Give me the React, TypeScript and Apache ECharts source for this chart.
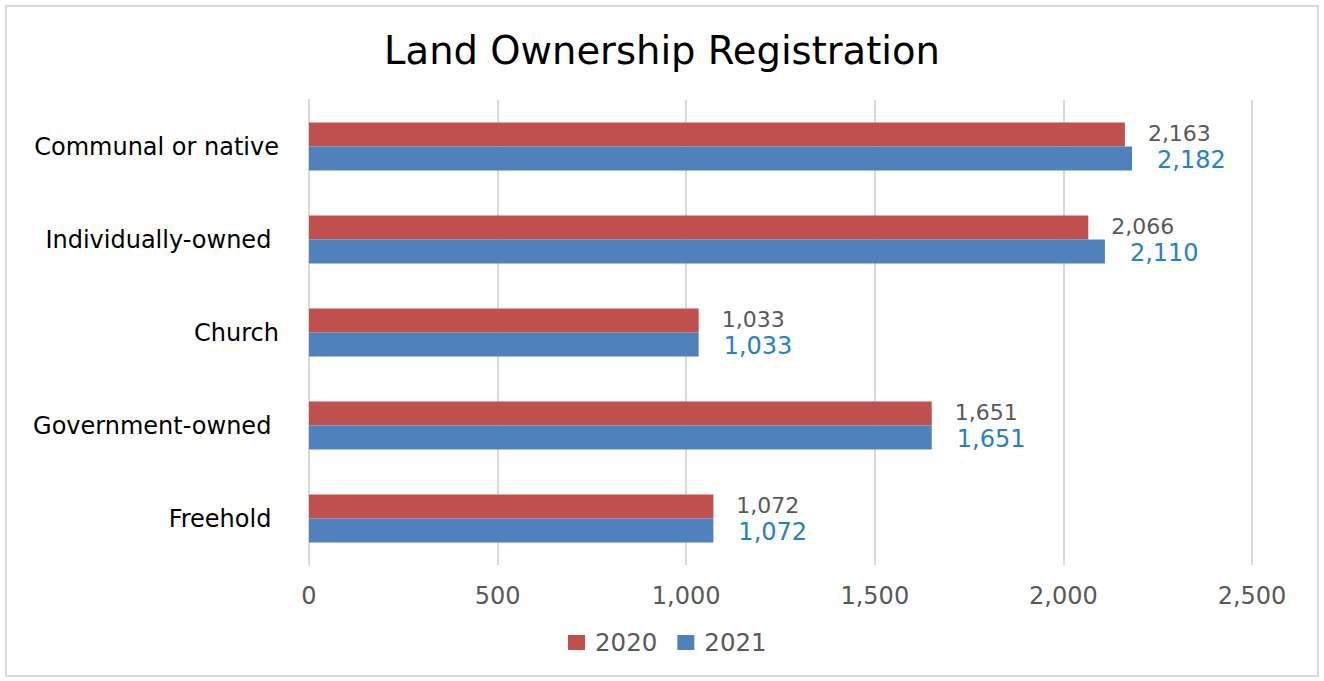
import React, { useEffect, useRef } from "react";
import * as echarts from "echarts";

const categories = ["Communal or native", "Individually-owned ", "Church", "Government-owned ", "Freehold "];
const values2020 = [2163, 2066, 1033, 1651, 1072];
const values2021 = [2182, 2110, 1033, 1651, 1072];
const seriesNames = ["2020", "2021"];

const FONT = "'DejaVu Sans', 'Noto Sans', sans-serif";

export default function App() {
  const ref = useRef<HTMLDivElement>(null);
  useEffect(() => {
    document.body.style.margin = "0";
    const chart = echarts.init(ref.current!, null, { renderer: "svg" });
    const fmt = (p: any) => Number(p.value).toLocaleString("en-US");
    chart.setOption({
      animation: false,
      backgroundColor: "#ffffff",
      title: {
        text: "Land Ownership Registration",
        left: "center",
        top: 26,
        textStyle: { fontFamily: FONT, fontSize: 38.5, fontWeight: "normal", color: "#000000" },
      },
      graphic: [
        {
          type: "rect",
          shape: { x: 6, y: 6, width: 1312, height: 670 },
          style: { fill: "none", stroke: "#d9d9d9", lineWidth: 2 },
          silent: true,
        },
      ],
      legend: {
        bottom: 21,
        left: 563,
        itemWidth: 17,
        itemHeight: 15,
        itemGap: 20,
        icon: "rect",
        textStyle: { fontFamily: FONT, fontSize: 24.5, color: "#595959", padding: [0, 0, 0, 5] },
        data: seriesNames,
      },
      grid: { left: 309, right: 72, top: 100, bottom: 116, containLabel: false },
      xAxis: {
        type: "value",
        min: 0,
        max: 2500,
        interval: 500,
        axisLine: { show: false },
        axisTick: { show: false },
        splitLine: { lineStyle: { color: "#d9d9d9", width: 2 } },
        axisLabel: {
          fontFamily: FONT,
          fontSize: 24,
          color: "#595959",
          margin: 19,
          formatter: (v: number) => v.toLocaleString("en-US"),
        },
      },
      yAxis: {
        type: "category",
        data: categories,
        inverse: true,
        axisLine: { show: true, lineStyle: { color: "#d9d9d9", width: 2 } },
        axisTick: { show: false },
        axisLabel: { fontFamily: FONT, fontSize: 24, color: "#000000", margin: 30 },
      },
      series: [
        {
          name: seriesNames[0],
          type: "bar",
          data: values2020,
          barWidth: 24,
          barGap: "0%",
          itemStyle: { color: "#C0504D" },
          label: {
            show: true,
            position: "right",
            distance: 23,
            offset: [0, -1],
            formatter: fmt,
            fontFamily: FONT,
            fontSize: 22,
            lineHeight: 21,
            color: "#595959",
          },
        },
        {
          name: seriesNames[1],
          type: "bar",
          data: values2021,
          barWidth: 24,
          barGap: "0%",
          itemStyle: { color: "#4F81BD" },
          label: {
            show: true,
            position: "right",
            distance: 25,
            offset: [0, 1],
            formatter: fmt,
            fontFamily: FONT,
            fontSize: 24,
            lineHeight: 21,
            color: "#2680C8",
          },
        },
      ],
    });
    return () => chart.dispose();
  }, []);
  return <div ref={ref} style={{ width: 1324, height: 681 }} />;
}
